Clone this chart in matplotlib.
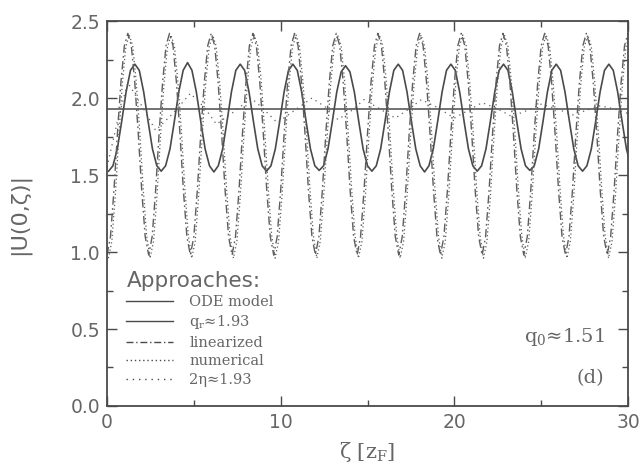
import matplotlib.pyplot as plt
import numpy as np
from matplotlib.lines import Line2D

# ---- data (zeta in units of z_F) ----
# ODE model: sampled every ode_step, starting at ode_x0
ode_x0, ode_step = 0.09, 0.2527
ode_y = [
    1.525, 1.56, 1.67, 1.85, 2.04, 2.18, 2.22, 2.18, 2.04, 1.85, 1.67, 1.56,
    1.525, 1.56, 1.67, 1.85, 2.04, 2.18, 2.23, 2.18, 2.04, 1.85, 1.67, 1.56,
    1.52, 1.56, 1.67, 1.85, 2.04, 2.18, 2.22, 2.18, 2.04, 1.85, 1.67, 1.56,
    1.525, 1.56, 1.67, 1.85, 2.04, 2.18, 2.22, 2.18, 2.04, 1.85, 1.67, 1.56,
    1.53, 1.56, 1.67, 1.85, 2.04, 2.17, 2.21, 2.17, 2.04, 1.85, 1.67, 1.56,
    1.525, 1.56, 1.67, 1.85, 2.04, 2.18, 2.22, 2.18, 2.04, 1.85, 1.67, 1.56,
    1.52, 1.56, 1.67, 1.85, 2.04, 2.18, 2.22, 2.18, 2.04, 1.85, 1.67, 1.56,
    1.525, 1.56, 1.67, 1.85, 2.04, 2.18, 2.22, 2.18, 2.04, 1.85, 1.67, 1.56,
    1.53, 1.56, 1.67, 1.85, 2.04, 2.18, 2.22, 2.18, 2.04, 1.85, 1.67, 1.56,
    1.525, 1.56, 1.67, 1.85, 2.04, 2.18, 2.22, 2.18, 2.04, 1.85, 1.67, 1.56,
]
qr_value = 1.93

# linearized approach: sampled every 0.2 from zeta = 0
lin_x0, lin_step = 0.0, 0.2
lin_y = [
    0.98, 1.10, 1.40, 1.77, 2.10, 2.34, 2.42, 2.34, 2.10, 1.77, 1.40, 1.10,
    0.98, 1.10, 1.40, 1.77, 2.10, 2.34, 2.42, 2.34, 2.10, 1.77, 1.40, 1.10,
    0.98, 1.10, 1.40, 1.77, 2.10, 2.34, 2.42, 2.34, 2.10, 1.77, 1.40, 1.10,
    0.98, 1.10, 1.40, 1.77, 2.10, 2.34, 2.42, 2.34, 2.10, 1.77, 1.40, 1.10,
    0.98, 1.10, 1.40, 1.77, 2.10, 2.34, 2.42, 2.34, 2.10, 1.77, 1.40, 1.10,
    0.98, 1.10, 1.40, 1.77, 2.10, 2.34, 2.42, 2.34, 2.10, 1.77, 1.40, 1.10,
    0.98, 1.10, 1.40, 1.77, 2.10, 2.34, 2.42, 2.34, 2.10, 1.77, 1.40, 1.10,
    0.98, 1.10, 1.40, 1.77, 2.10, 2.34, 2.42, 2.34, 2.10, 1.77, 1.40, 1.10,
    0.98, 1.10, 1.40, 1.77, 2.10, 2.34, 2.42, 2.34, 2.10, 1.77, 1.40, 1.10,
    0.98, 1.10, 1.40, 1.77, 2.10, 2.34, 2.42, 2.34, 2.10, 1.77, 1.40, 1.10,
    0.98, 1.10, 1.40, 1.77, 2.10, 2.34, 2.42, 2.34, 2.10, 1.77, 1.40, 1.10,
    0.98, 1.10, 1.40, 1.77, 2.10, 2.34, 2.42, 2.34, 2.10, 1.77, 1.40, 1.10,
    0.98, 1.10, 1.40, 1.77, 2.10, 2.34, 2.42,
]

# numerical result, large oscillation (slightly behind the linearized one)
num_x0, num_step = 0.08, 0.2
num_y = [
    0.96, 1.07, 1.37, 1.75, 2.09, 2.33, 2.41, 2.34, 2.11, 1.79, 1.42, 1.11,
    0.96, 1.07, 1.37, 1.75, 2.09, 2.33, 2.41, 2.34, 2.11, 1.79, 1.42, 1.11,
    0.96, 1.07, 1.37, 1.75, 2.09, 2.33, 2.41, 2.34, 2.11, 1.79, 1.42, 1.11,
    0.96, 1.07, 1.37, 1.75, 2.09, 2.33, 2.41, 2.34, 2.11, 1.79, 1.42, 1.11,
    0.96, 1.07, 1.37, 1.75, 2.09, 2.33, 2.41, 2.34, 2.11, 1.79, 1.42, 1.11,
    0.96, 1.07, 1.37, 1.75, 2.09, 2.33, 2.41, 2.34, 2.11, 1.79, 1.42, 1.11,
    0.96, 1.07, 1.37, 1.75, 2.09, 2.33, 2.41, 2.34, 2.11, 1.79, 1.42, 1.11,
    0.96, 1.07, 1.37, 1.75, 2.09, 2.33, 2.41, 2.34, 2.11, 1.79, 1.42, 1.11,
    0.96, 1.07, 1.37, 1.75, 2.09, 2.33, 2.41, 2.34, 2.11, 1.79, 1.42, 1.11,
    0.96, 1.07, 1.37, 1.75, 2.09, 2.33, 2.41, 2.34, 2.11, 1.79, 1.42, 1.11,
    0.96, 1.07, 1.37, 1.75, 2.09, 2.33, 2.41, 2.34, 2.11, 1.79, 1.42, 1.11,
    0.96, 1.07, 1.37, 1.75, 2.09, 2.33, 2.41, 2.34, 2.11, 1.79, 1.42, 1.11,
    0.96, 1.07, 1.37, 1.75, 2.09, 2.33, 2.41,
]

# small oscillation settling towards 2*eta
eta_x = [0, 0.6, 1.2, 2.0, 2.8, 3.8, 4.8, 5.6, 6.3, 7.3, 8.3, 9.0, 9.8,
         10.8, 11.8, 12.6, 13.3, 14.1, 14.8, 15.7, 16.6, 17.4, 18.1, 19.0,
         20.0, 20.8, 21.6, 22.5, 23.3, 24.2, 25.0, 25.9, 26.8, 27.6, 28.4,
         29.2, 30.0]
eta_y = [1.55, 1.85, 2.10, 1.95, 1.79, 1.90, 2.03, 1.94, 1.83, 1.91, 2.00,
         1.93, 1.84, 1.92, 2.00, 1.94, 1.86, 1.92, 1.99, 1.93, 1.87, 1.93,
         1.99, 1.94, 1.87, 1.92, 1.97, 1.93, 1.88, 1.92, 1.96, 1.93, 1.89,
         1.92, 1.95, 1.93, 1.90]

labels = ['ODE model', 'q$_\\mathrm{r}$≈1.93', 'linearized', 'numerical',
          '2η≈1.93']

line_c = '#4a4a4a'
soft_c = '#5e5e5e'
text_c = '#666666'
plt.rcParams['mathtext.fontset'] = 'dejavuserif'

ode_x = ode_x0 + ode_step * np.arange(len(ode_y))
lin_x = lin_x0 + lin_step * np.arange(len(lin_y))
num_x = num_x0 + num_step * np.arange(len(num_y))

fig = plt.figure(figsize=(6.43, 4.68), dpi=100)
ax = fig.add_axes([0.1664, 0.1325, 0.8103, 0.8225])

dashdot = (0, (6, 2.5, 1.2, 2.5))
dots = (0, (1, 2))
sparse = (0, (1, 3.5))

h1, = ax.plot(ode_x, ode_y, color=line_c, lw=1.2)
h2 = ax.axhline(qr_value, color=line_c, lw=1.1)
h3, = ax.plot(lin_x, lin_y, color=soft_c, lw=1.0, ls=dashdot)
h4, = ax.plot(num_x, num_y, color=soft_c, lw=0.9, ls=dots)
h5, = ax.plot(eta_x, eta_y, color=soft_c, lw=0.9, ls=sparse)

ax.set_xlim(0, 30)
ax.set_ylim(0, 2.5)
ax.set_xticks([0, 10, 20, 30])
ax.set_xticks([5, 15, 25], minor=True)
ax.set_yticks([0.0, 0.5, 1.0, 1.5, 2.0, 2.5])
ax.set_yticks(np.arange(0.25, 2.5, 0.5), minor=True)
ax.set_yticklabels(['0.0', '0.5', '1.0', '1.5', '2.0', '2.5'])
ax.tick_params(which='both', direction='in', top=True, right=True,
               colors=line_c, labelcolor=text_c, labelsize=13.5, width=1.0)
ax.tick_params(which='major', length=7, pad=5)
ax.tick_params(which='minor', length=4)
for s in ax.spines.values():
    s.set_color(line_c)
    s.set_linewidth(1.3)

ax.set_ylabel('|U(0,ζ)|', fontsize=16, color=text_c, labelpad=29)
ax.set_xlabel('ζ [z$_\\mathrm{F}$]', fontsize=15, color=text_c,
              family='DejaVu Serif', labelpad=6)

leg_lines = [Line2D([], [], color=line_c, lw=1.0),
             Line2D([], [], color=line_c, lw=1.0),
             Line2D([], [], color=line_c, lw=1.0, ls=(0, (5, 2, 1, 2))),
             Line2D([], [], color=line_c, lw=1.0, ls=dots),
             Line2D([], [], color=line_c, lw=1.0, ls=sparse)]
leg = ax.legend(leg_lines, labels, loc='lower left',
                bbox_to_anchor=(0.015, 0.02), frameon=False,
                title='Approaches:', alignment='left',
                prop={'family': 'DejaVu Serif', 'size': 10.5},
                handlelength=3.2, handletextpad=1.1, labelspacing=0.3,
                borderpad=0.3)
leg.get_title().set_fontsize(15.5)
leg.get_title().set_color(text_c)
for t in leg.get_texts():
    t.set_color(text_c)

ax.text(0.955, 0.18, 'q$_0$≈1.51', transform=ax.transAxes, ha='right',
        va='center', fontsize=14, color=text_c, family='DejaVu Serif')
ax.text(0.955, 0.073, '(d)', transform=ax.transAxes, ha='right',
        va='center', fontsize=14, color=text_c, family='DejaVu Serif')

fig.savefig('out.png', dpi=100, facecolor='white')
